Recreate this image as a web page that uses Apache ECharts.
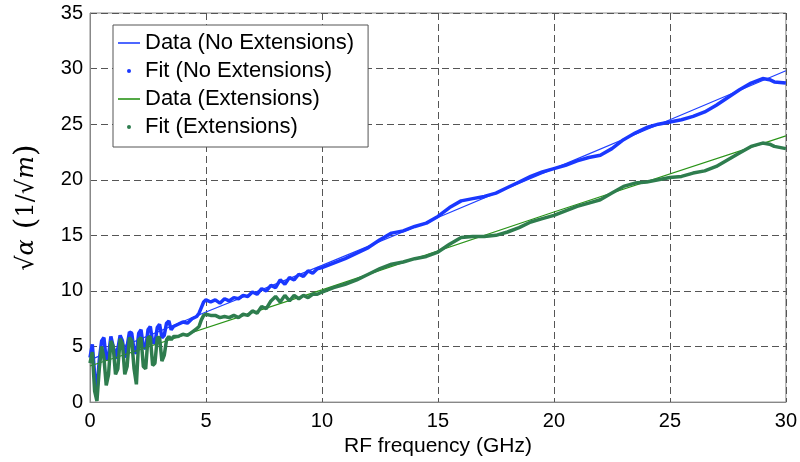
<!DOCTYPE html>
<html>
<head>
<meta charset="utf-8">
<script src="https://cdn.jsdelivr.net/npm/echarts@6/dist/echarts.min.js"></script>
<style>
  html, body { margin: 0; padding: 0; background: #fff; }
  #chart { width: 800px; height: 462px; }
</style>
</head>
<body>
<div id="chart"></div>
<script>
// frequency grid of the measured (dotted) curves, GHz
var freqNoisy = [
    0.0, 0.1, 0.2, 0.3, 0.4, 0.5, 0.6, 0.7, 0.8, 0.9,
    1.0, 1.1, 1.2, 1.3, 1.4, 1.5, 1.6, 1.7, 1.8, 1.9,
    2.0, 2.1, 2.2, 2.3, 2.4, 2.5, 2.6, 2.7, 2.8, 2.9,
    3.0, 3.1, 3.2, 3.3, 3.4, 3.5, 3.6,
    3.8, 4.0, 4.2, 4.4, 4.6, 4.7, 4.8, 4.9,
    5.0, 5.2, 5.4, 5.6, 5.8, 6.0, 6.2, 6.4, 6.6, 6.8,
    7.0, 7.2, 7.4, 7.6, 7.8, 8.0, 8.2, 8.4, 8.6, 8.8,
    9.0, 9.2, 9.4, 9.6, 9.8, 10.0,
    10.5, 11, 11.5, 12, 12.5, 13, 13.5, 14, 14.5, 15,
    15.5, 16, 16.5, 17, 17.5, 18, 18.5, 19, 19.5, 20,
    20.5, 21, 21.5, 22, 22.5, 23, 23.5, 24, 24.5, 25,
    25.5, 26, 26.5, 27, 27.5, 28, 28.5, 29,
    29.3, 29.5, 30
];
var noExtNoisy = [
    4.0, 5.2, 2.5, 1.0, 3.8, 5.5, 5.8, 3.8, 4.2, 5.9,
    5.0, 3.9, 4.8, 6.0, 5.5, 4.0, 5.0, 6.3, 6.2, 4.6,
    4.4, 6.2, 6.5, 5.0, 4.8, 6.5, 6.8, 5.4, 5.3, 6.7,
    7.0, 5.8, 6.0, 7.1, 7.3, 6.5, 6.8,
    7.0, 7.2, 7.1, 7.5, 7.7, 8.0, 8.5, 9.0,
    9.2, 9.0, 9.2, 8.9, 9.3, 9.1, 9.4, 9.3, 9.6, 9.5,
    9.9, 9.7, 10.2, 10.0, 10.5, 10.3, 11.0, 10.6, 11.2, 11.0,
    11.5, 11.3, 11.8, 11.6, 12.0, 12.1,
    12.5, 12.9, 13.4, 13.9, 14.6, 15.2, 15.4, 15.8, 16.1, 16.7,
    17.5, 18.1, 18.3, 18.5, 18.8, 19.3, 19.8, 20.3, 20.7, 21.0,
    21.3, 21.7, 22.0, 22.2, 22.8, 23.6, 24.2, 24.7, 25.0, 25.2,
    25.4, 25.7, 26.1, 26.7, 27.4, 28.1, 28.7, 29.1,
    29.0, 28.8, 28.7
];
var extNoisy = [
    3.5, 4.5, 1.0, 0.1, 3.0, 5.0, 4.0, 1.5, 2.5, 5.5,
    5.0, 2.5, 3.0, 5.7, 5.2, 2.5, 3.2, 5.8, 5.5, 3.0,
    1.6, 5.6, 5.8, 3.2, 3.0, 5.8, 5.9, 3.3, 3.5, 5.8,
    5.8, 3.7, 4.2, 5.6, 5.9, 5.6, 5.9,
    5.9, 6.1, 6.0, 6.3, 6.6, 6.8, 7.4, 7.8,
    7.9, 7.8, 7.8, 7.6, 7.7, 7.6, 7.8, 7.6, 7.9, 7.8,
    8.2, 8.0, 8.6, 8.4, 9.1, 9.5, 9.0, 9.6, 9.1, 9.6,
    9.3, 9.6, 9.4, 9.7, 9.7, 9.9,
    10.3, 10.6, 11.0, 11.5, 12.0, 12.4, 12.6, 12.9, 13.1, 13.5,
    14.2, 14.8, 14.9, 14.9, 15.0, 15.3, 15.7, 16.2, 16.5, 16.8,
    17.2, 17.6, 17.9, 18.2, 18.8, 19.4, 19.7, 19.8, 20.0, 20.2,
    20.3, 20.6, 20.8, 21.2, 21.8, 22.4, 23.0, 23.3,
    23.2, 23.0, 22.8
];

// straight lines
var lineFreqNoExt = [0, 5, 10, 15, 20, 25, 30];
var lineNoExt = [3.8, 8.1, 12.3, 16.6, 21.0, 25.4, 29.8];
var lineFreqExt = [0, 10, 20, 30];
var lineExt = [3.25, 10.1, 17.1, 23.95];

var legendNames = ['Data (No Extensions)', 'Fit (No Extensions)', 'Data (Extensions)', 'Fit (Extensions)'];

function pairs(xs, ys) {
    var res = [];
    for (var i = 0; i < xs.length; i++) {
        res.push([xs[i], ys[i]]);
    }
    return res;
}

var chart = echarts.init(document.getElementById('chart'));
var font = 'Liberation Sans, Arial, Helvetica, sans-serif';
var lineIcon = 'path://M0,0 L22,0 L22,1.6 L0,1.6 Z';

var option = {
    backgroundColor: '#fff',
    animation: false,
    grid: {
        left: 90, right: 12, top: 13, bottom: 59,
        show: true, borderColor: '#888', borderWidth: 1
    },
    legend: {
        orient: 'vertical',
        left: 113, top: 25,
        padding: [7, 14, 9, 5],
        itemWidth: 22, itemHeight: 4, itemGap: 6,
        borderColor: '#555', borderWidth: 1,
        backgroundColor: '#fff',
        textStyle: { fontFamily: font, fontSize: 22, color: '#000' },
        data: [
            { name: legendNames[0], icon: lineIcon },
            { name: legendNames[1], icon: 'circle' },
            { name: legendNames[2], icon: lineIcon },
            { name: legendNames[3], icon: 'circle' }
        ]
    },
    xAxis: {
        type: 'value', min: 0, max: 30, interval: 5,
        name: 'RF frequency (GHz)', nameLocation: 'middle', nameGap: 32,
        nameTextStyle: { fontFamily: font, fontSize: 21, color: '#000' },
        axisLine: { lineStyle: { color: '#888' } },
        axisTick: { show: false },
        axisLabel: { fontFamily: font, fontSize: 20, color: '#000', margin: 9 },
        splitLine: { lineStyle: { color: '#555', type: [7, 4], width: 1 } }
    },
    yAxis: {
        type: 'value', min: 0, max: 35, interval: 5,
        name: '{r|√}{m|α}   {p|(}{r|1/√}{m|m}{p|)}', nameLocation: 'middle', nameGap: 48,
        nameTextStyle: {
            color: '#000',
            rich: {
                r: { fontFamily: 'DejaVu Serif', fontSize: 24, color: '#000' },
                m: { fontFamily: 'DejaVu Serif', fontStyle: 'italic', fontSize: 24, color: '#000' },
                p: { fontFamily: 'DejaVu Serif', fontSize: 30, color: '#000' }
            }
        },
        axisLine: { show: true, lineStyle: { color: '#888' } },
        axisTick: { show: false },
        axisLabel: { fontFamily: font, fontSize: 20, color: '#000', margin: 7 },
        splitLine: { lineStyle: { color: '#555', type: [7, 4], width: 1 } }
    },
    series: [
        {
            name: legendNames[0], type: 'line', symbol: 'none',
            color: '#2040ff',
            lineStyle: { width: 1.2, color: '#2040ff' },
            data: pairs(lineFreqNoExt, lineNoExt)
        },
        {
            name: legendNames[1], type: 'line', symbol: 'none',
            color: '#1a38ff',
            lineStyle: { width: 3.5, color: '#1a38ff' },
            data: pairs(freqNoisy, noExtNoisy)
        },
        {
            name: legendNames[2], type: 'line', symbol: 'none',
            color: '#2a9418',
            lineStyle: { width: 1.2, color: '#2a9418' },
            data: pairs(lineFreqExt, lineExt)
        },
        {
            name: legendNames[3], type: 'line', symbol: 'none',
            color: '#2e7d4e',
            lineStyle: { width: 3.5, color: '#2e7d4e' },
            data: pairs(freqNoisy, extNoisy)
        }
    ]
};

chart.setOption(option);
</script>
</body>
</html>
